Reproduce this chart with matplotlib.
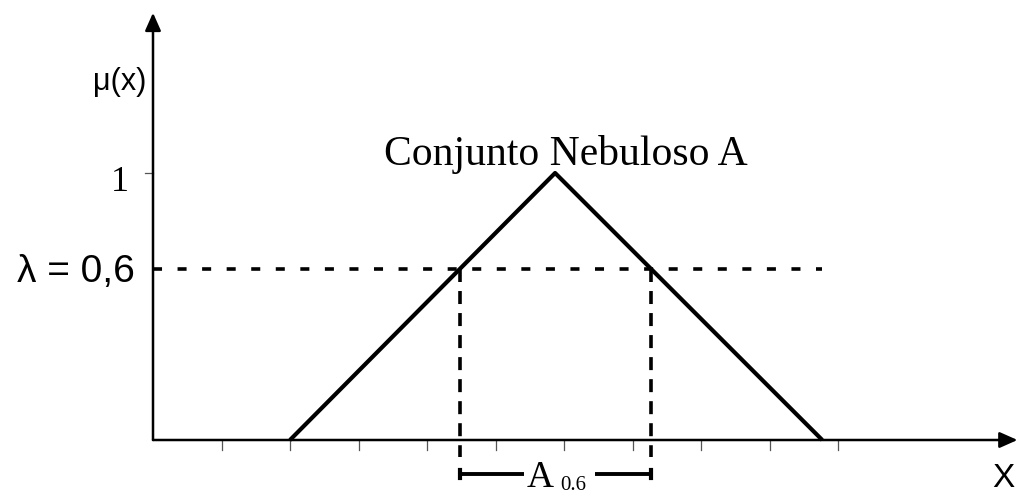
import numpy as np
import matplotlib
matplotlib.use("Agg")
import matplotlib.pyplot as plt

# membership function of the fuzzy set (triangle)
tri_x = [2.0, 5.87, 9.77]
tri_mu = [0.0, 1.0, 0.0]

# alpha cut level (where it is drawn) and its label
lam = 0.64
lam_label = "λ = 0,6"

x_ticks = list(range(1, 11))
set_label = "Conjunto Nebuloso A"

serif = ["Liberation Serif", "DejaVu Serif"]
sans = ["Liberation Sans", "DejaVu Sans"]

fig = plt.figure(figsize=(10.16, 4.96), dpi=100)
ax = fig.add_axes([0, 0, 1, 1])
ax.set_xlim(-153 / 68.5, (1016 - 153) / 68.5)
ax.set_ylim(-56 / 267, 440 / 267)
ax.axis("off")

# axes with arrows
arrow = dict(arrowstyle="-|>,head_length=0.45,head_width=0.2", lw=1.8, color="k",
             mutation_scale=24, shrinkA=0, shrinkB=0)
ax.annotate("", xy=(12.62, 0), xytext=(0, 0), arrowprops=arrow, annotation_clip=False)
ax.annotate("", xy=(0, 1.60), xytext=(0, 0), arrowprops=arrow, annotation_clip=False)

# small ticks
for t in x_ticks:
    ax.plot([t, t], [0, -0.038], color="#555555", lw=0.9)
ax.plot([-0.12, 0], [1, 1], color="#555555", lw=0.9)

# triangle
ax.plot(tri_x, tri_mu, color="k", lw=3.0, solid_capstyle="butt")

# alpha cut
x_left = np.interp(lam, tri_mu[:2], tri_x[:2])
x_right = np.interp(-lam, [-t for t in tri_mu[1:]], tri_x[1:])
ax.plot([0, tri_x[2]], [lam, lam], color="k", lw=2.6, dashes=(2.5, 4.3), dash_capstyle="butt")
for xv in (x_left, x_right):
    ax.plot([xv, xv], [lam, -0.065], color="k", lw=2.6, dashes=(3.6, 2.5), dash_capstyle="butt")

# bracket for A_0.6
yb = -0.128
ax.plot([x_left, 5.42], [yb, yb], color="k", lw=2.8, solid_capstyle="butt")
ax.plot([6.45, x_right], [yb, yb], color="k", lw=2.8, solid_capstyle="butt")
for xv in (x_left, x_right):
    ax.plot([xv, xv], [yb - 0.016, yb + 0.016], color="k", lw=3.0)
ax.text(5.45, -0.176, "A", family=serif, fontsize=27, ha="left", va="baseline")
ax.text(5.95, -0.186, "0.6", family=serif, fontsize=15, ha="left", va="baseline")

# labels
ax.text(-0.1, 1.34, "μ(x)", family=sans, fontsize=22, ha="right", va="center")
ax.text(-0.48, 0.963, "1", family=serif, fontsize=26, ha="center", va="center")
ax.text(-0.26, lam - 0.01, lam_label, family=sans, fontsize=28, ha="right", va="center")
ax.text(6.03, 1.03, set_label, family=serif, fontsize=30, ha="center", va="baseline")
ax.text(12.42, -0.176, "X", family=sans, fontsize=24, ha="center", va="baseline")

fig.savefig("out.png", dpi=100)
